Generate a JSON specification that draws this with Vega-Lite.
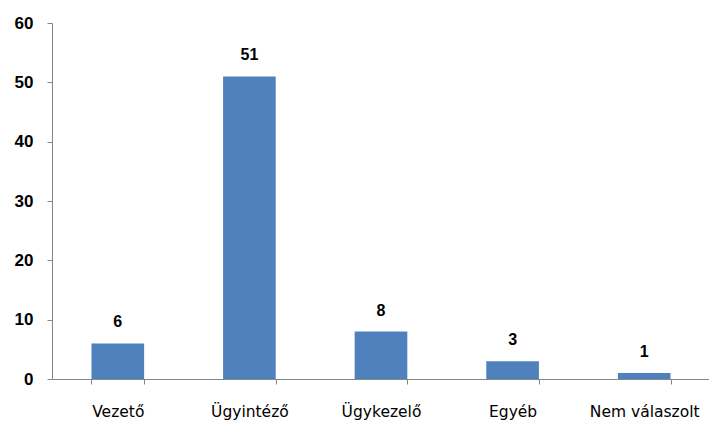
{
  "$schema": "https://vega.github.io/schema/vega-lite/v6.json",
  "autosize": "none",
  "width": 658,
  "height": 356,
  "padding": {"left": 52, "top": 23, "right": 0, "bottom": 42},
  "background": "white",
  "data": {"values": [
    {"cat": "Vezető", "v": 6},
    {"cat": "Ügyintéző", "v": 51},
    {"cat": "Ügykezelő", "v": 8},
    {"cat": "Egyéb", "v": 3},
    {"cat": "Nem válaszolt", "v": 1}
  ]},
  "encoding": {
    "x": {"field": "cat", "type": "nominal", "sort": null,
      "scale": {"paddingInner": 0.6, "paddingOuter": 0.3},
      "axis": {"title": null, "labelAngle": 0, "labelFont": "DejaVu Sans", "labelFontSize": 15.5, "labelColor": "#000", "labelPadding": 20,
        "domainColor": "#868686", "tickColor": "#868686", "tickSize": 5, "tickBand": "extent"}},
    "y": {"field": "v", "type": "quantitative",
      "scale": {"domain": [0, 60]},
      "axis": {"title": null, "values": [0,10,20,30,40,50,60], "grid": false, "labelFont": "Liberation Sans", "labelFontWeight": "bold", "labelFontSize": 17, "labelColor": "#000", "labelPadding": 14,
        "domainColor": "#868686", "tickColor": "#868686", "tickSize": 5}}
  },
  "layer": [
    {"mark": {"type": "bar", "color": "#4F81BD"}},
    {"mark": {"type": "text", "baseline": "bottom", "dy": -13, "font": "Liberation Sans", "fontWeight": "bold", "fontSize": 16, "color": "#000"},
     "encoding": {"text": {"field": "v"}}}
  ],
  "config": {"view": {"stroke": null}}
}
